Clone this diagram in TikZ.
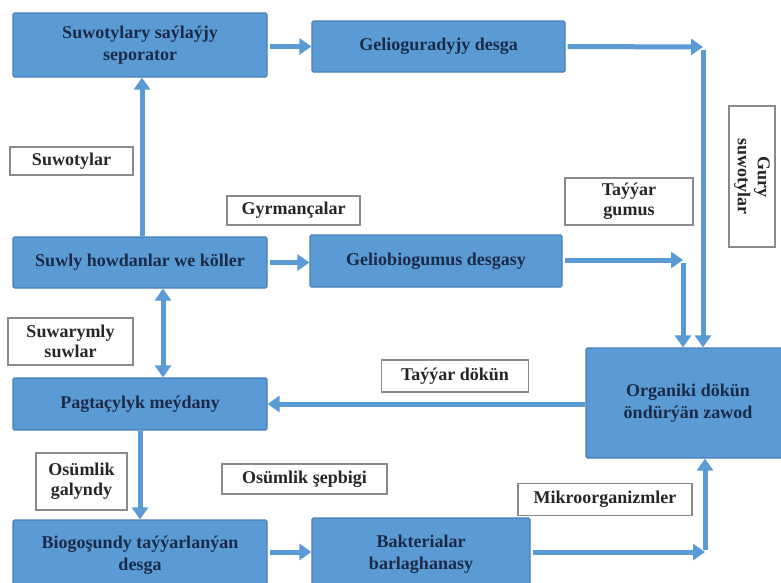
\documentclass[tikz,border=0pt]{standalone}
\usepackage{fontspec}
\setmainfont{Liberation Serif}
\usetikzlibrary{arrows.meta}
\definecolor{boxblue}{HTML}{5B9BD5}
\definecolor{boxedge}{HTML}{4A7FB5}
\definecolor{navytext}{HTML}{1B2A47}
\definecolor{lbledge}{HTML}{8A8A8A}
\tikzset{
  bluebox/.style={draw=boxedge, line width=1.2pt, fill=boxblue, rounded corners=1.5pt,
    text=navytext, font=\bfseries\fontsize{18}{22.5}\selectfont, align=center, inner sep=2pt},
  lblbox/.style={draw=lbledge, line width=1.3pt, fill=white,
    text=black!85, font=\bfseries\fontsize{18}{20}\selectfont, align=center, inner sep=1pt},
  arr/.style={draw=boxblue, line width=5pt, -{Triangle[width=16pt,length=12pt]}},
  arrb/.style={draw=boxblue, line width=5pt, {Triangle[width=16pt,length=12pt]}-{Triangle[width=16pt,length=12pt]}},
}
\begin{document}
\begin{tikzpicture}[x=1pt,y=-1pt]
\useasboundingbox (0,0) rectangle (781,582);
\clip (0,0) rectangle (781,582);
\fill[white] (0,0) rectangle (781,582);
% blue boxes
\node[bluebox, minimum width=254pt, minimum height=64pt] (sep) at (140,45) {Suwotylary saýlaýjy\\seporator};
\node[bluebox, minimum width=253pt, minimum height=51pt] (gel) at (438.5,46.5) {Gelioguradyjy desga};
\node[bluebox, minimum width=254pt, minimum height=51pt] (suw) at (140,262.5) {Suwly howdanlar we köller};
\node[bluebox, minimum width=252pt, minimum height=52pt] (gbio) at (436,261) {Geliobiogumus desgasy};
\node[bluebox, minimum width=254pt, minimum height=52pt] (pag) at (140,404) {Pagtaçylyk meýdany};
\node[bluebox, minimum width=254pt, minimum height=70pt] (bio) at (140,555) {Biogoşundy taýýarlanýan\\desga};
\node[bluebox, minimum width=218pt, minimum height=72pt] (bak) at (421,554) {Bakterialar\\barlaghanasy};
\node[bluebox, minimum width=204pt, minimum height=110pt] (org) at (688,403) {Organiki dökün\\öndürýän zawod};
% label boxes
\node[lblbox, minimum width=123pt, minimum height=28pt] (l1) at (71.5,161) {Suwotylar};
\node[lblbox, minimum width=133pt, minimum height=29pt] (l2) at (293.5,210.5) {Gyrmançalar};
\node[lblbox, minimum width=128pt, minimum height=47pt] (l3) at (629,201.5) {Taýýar\\gumus};
\node[lblbox, minimum width=141pt, minimum height=46pt, rotate=-90] (l4) at (752,176.5) {Gury\\suwotylar};
\node[lblbox, minimum width=125pt, minimum height=47pt] (l5) at (70.5,341.5) {Suwarymly\\suwlar};
\node[lblbox, minimum width=147pt, minimum height=32pt] (l6) at (455,376) {Taýýar dökün};
\node[lblbox, minimum width=91pt, minimum height=57pt] (l7) at (81.5,481.5) {Osümlik\\galyndy};
\node[lblbox, minimum width=165pt, minimum height=30pt] (l8) at (304.5,479) {Osümlik şepbigi};
\node[lblbox, minimum width=174pt, minimum height=32pt] (l9) at (605,499.5) {Mikroorganizmler};
% corner coordinates
\coordinate (c1) at (703,47);
\coordinate (c2) at (683,260);
\coordinate (c3) at (705,552);
% connectors
\draw[arr] ([xshift=2pt]sep.east |- gel.west) -- (gel.west);
\draw[arr] ([xshift=2pt]gel.east) -- (c1);
\draw[arr] ([yshift=-2.5pt]c1) -- (c1 |- org.north);
\draw[arr] ([xshift=2pt]suw.north) -- ([xshift=2pt]sep.south);
\draw[arr] ([xshift=2pt]suw.east) -- (gbio.west |- suw.east);
\draw[arr] ([xshift=2pt]gbio.east |- c2) -- (c2);
\draw[arr] ([yshift=-2.5pt]c2) -- (c2 |- org.north);
\draw[arrb] ([xshift=23pt]suw.south) -- ([xshift=23pt]pag.north);
\draw[arr] (org.west |- pag.east) -- (pag.east);
\draw[arr] (pag.south) -- (bio.north);
\draw[arr] ([xshift=2pt]bio.east |- c3) -- (bak.west |- c3);
\draw[arr] ([xshift=2pt]bak.east |- c3) -- (c3);
\draw[arr] ([yshift=2.5pt]c3) -- (c3 |- org.south);
\end{tikzpicture}
\end{document}
